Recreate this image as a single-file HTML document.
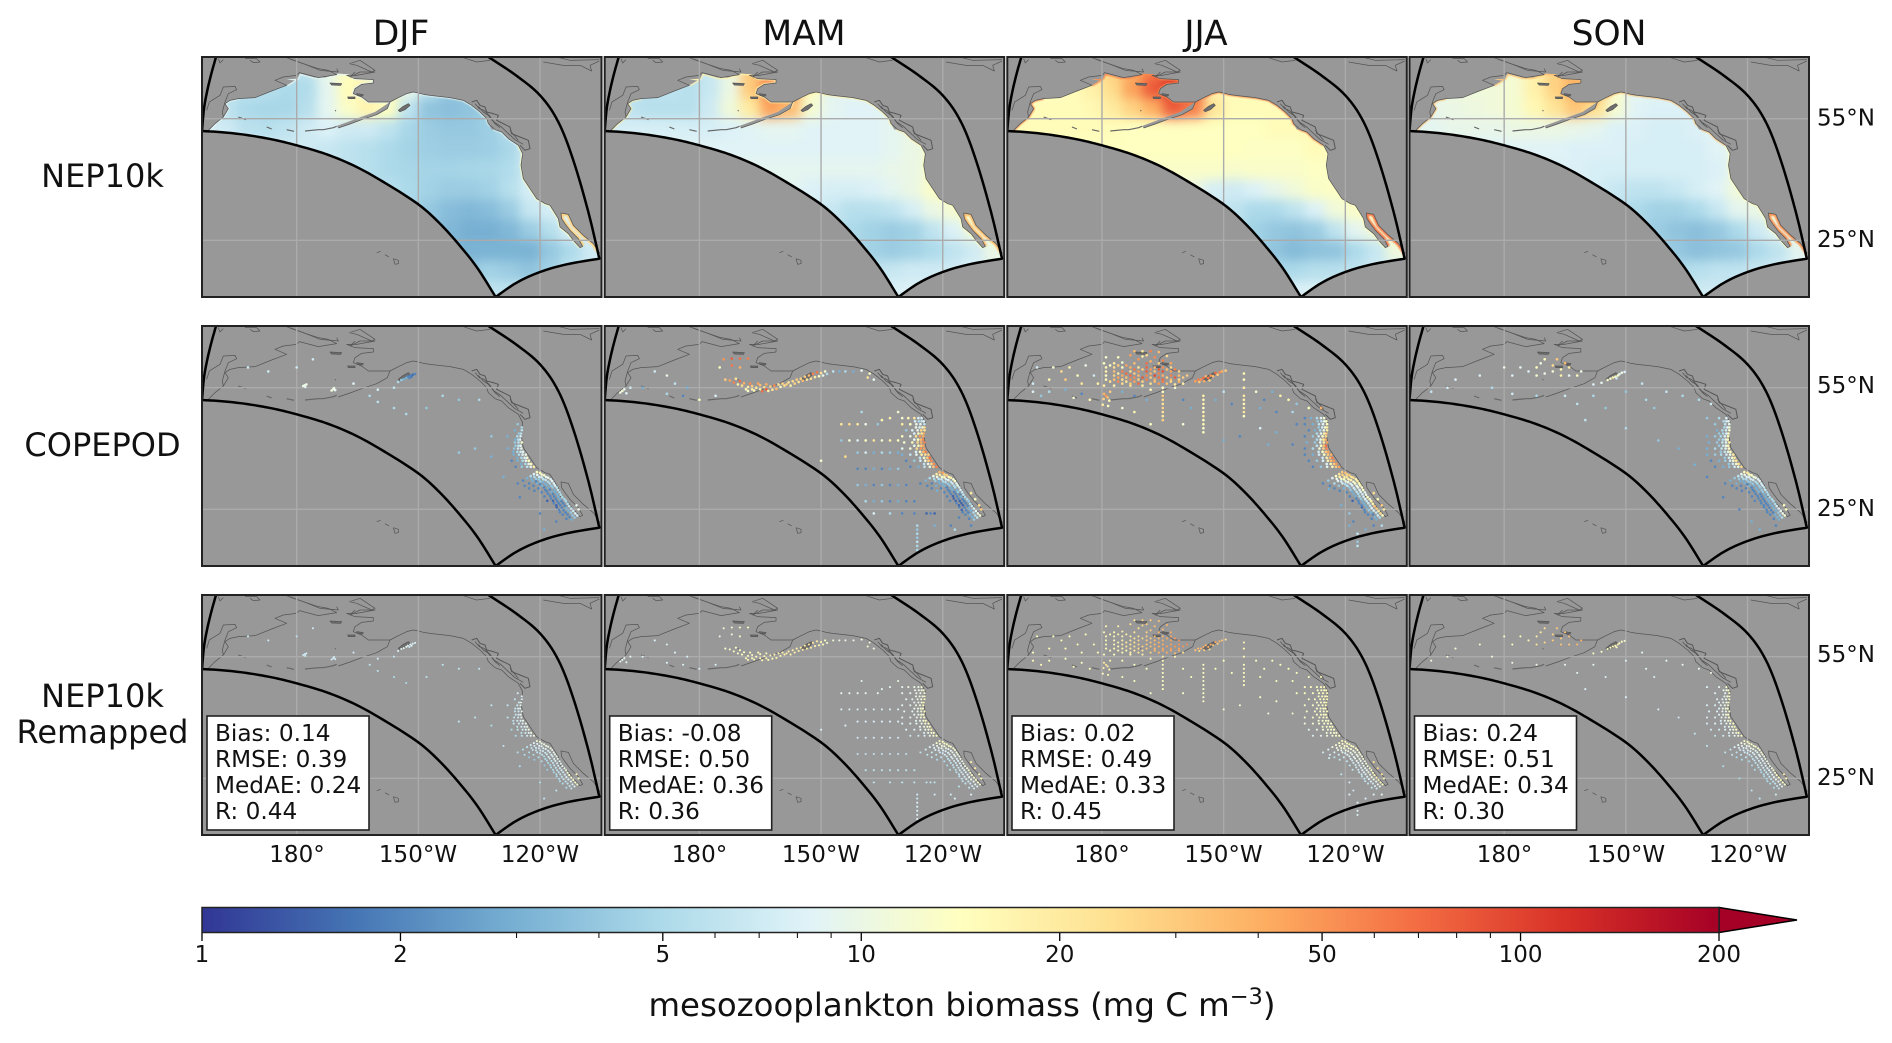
<!DOCTYPE html>
<html lang="en">
<head>
<meta charset="utf-8">
<title>Mesozooplankton biomass by season</title>
<style>
html,body{margin:0;padding:0;background:#fff;width:1892px;height:1043px;overflow:hidden}
svg{display:block}
text{font-family:"DejaVu Sans","Liberation Sans",sans-serif;fill:#111}
.title{font-size:34.5px;text-anchor:middle}
.row{font-size:32px;text-anchor:middle}
.tick{font-size:23px}
.mid{text-anchor:middle}
.stat{font-size:23.2px}
.statbox{fill:#fff;stroke:#222;stroke-width:1.6}
</style>
</head>
<body>
<svg id="figure" xmlns="http://www.w3.org/2000/svg" width="1892" height="1043" viewBox="0 0 1892 1043">
<defs>
<filter id="soft" x="-15%" y="-15%" width="130%" height="130%" color-interpolation-filters="sRGB"><feGaussianBlur stdDeviation="5.5"/></filter>
<filter id="softrim" x="-5%" y="-5%" width="110%" height="110%" color-interpolation-filters="sRGB"><feGaussianBlur stdDeviation="0.7"/></filter>
<clipPath id="ocean"><path id="ocean-shape" transform="translate(-12,-16.67) scale(.33333)" d=""/></clipPath>
<clipPath id="panel-clip"><rect x="0" y="0" width="399.5" height="240"/></clipPath>
<g id="rim-north" transform="translate(-12,-16.67) scale(.33333)" fill="none" stroke-linejoin="round"><path d="M55,270L75,250L90,238L100,230L115,205L105,190L120,180L145,175M290,135L315,120L290,118L323,115L330,100L375,112L405,112L445,100L475,102L495,115L550,118L550,128L515,132L495,145L490,160L515,170L535,185L600,185L595,200L560,220L515,235M625,172L650,160L670,155L685,158L700,162L720,165L780,172L820,180L845,195L870,215L890,235L895,250L915,268L935,275L955,295L985,315"/></g>
<g id="rim-south" transform="translate(-12,-16.67) scale(.33333)" fill="none" stroke-linejoin="round"><path d="M985,315L998,340L993,375L1000,415L1020,445L1040,475L1065,490L1080,495L1105,535L1110,560L1135,580L1150,600L1170,622"/></g>
<g id="rim-baja" transform="translate(-12,-16.67) scale(.33333)" fill="none" stroke-linejoin="round"><path d="M1178,618L1165,595L1140,570L1125,550L1115,535L1113,518L1135,522L1150,555L1180,585L1210,610L1230,640"/></g>
<g id="land" transform="translate(-12,-16.67) scale(.33333)" fill="#989898"><path d="M600,185L592,205L560,223L515,238L480,251L445,263L440,257L510,231L555,215Z"/><path d="M625,210L640,198L655,190L660,195L645,208L630,214Z"/><path d="M420,128L455,130L452,135L425,134Z"/><path d="M473,170L495,170L495,175L475,175Z"/><path d="M500,160L520,163L518,167L502,165Z"/><path d="M895,250L905,252L912,268L905,268Z"/></g>
<g id="coast" transform="translate(-12,-16.67) scale(.33333)" fill="none" stroke="#555" stroke-width="2.2" stroke-linejoin="round"><path d="M50,210L58,185L90,165L100,140L135,138L140,148L115,160L105,185L97,215L100,230L75,250L55,270"/><path d="M100,230L115,205L105,190L120,180L145,175L195,172L245,152L290,135L255,120L280,110L320,105L328,97L385,112L440,103L415,90L385,85L310,60L290,52"/><path d="M495,95L480,110L510,95L555,95L500,105L470,105L495,115L550,118L550,128L515,132L495,145L490,160L515,170L535,185L600,185L592,205L560,223L515,238L480,251L445,263"/><path d="M600,185L625,172L650,160L670,155L685,158L700,162L720,165L780,172L820,180L845,195L870,215L890,235L895,250L915,268L935,275L955,295L985,315L998,340L993,375L1000,415L1020,445L1040,475L1065,490L1080,495L1105,535L1110,560L1135,580L1150,600L1170,622L1178,618L1165,595L1140,570L1125,550L1115,535L1113,518L1135,522L1150,555L1180,585L1210,610L1230,640"/><path d="M85,55L90,68L100,58M165,55L200,55L210,65L190,67L180,60M300,55L345,72L390,90L445,95L440,85M478,70L510,60L555,90L545,95L500,75L478,70M820,52L860,65L900,60M1060,65L1120,75L1170,75L1205,92L1200,75L1228,62M1100,50L1140,60L1228,58"/><path d="M845,185L860,180L870,195L885,200L890,215L910,220L925,225L920,240L940,250L960,260L965,280L990,290L1015,300L1020,325L1005,330L990,315" stroke-width="3"/><path d="M855,190L868,205L882,210L900,228L912,245L932,258L950,275L975,298L1000,312M865,198L880,215L895,225L915,250L930,262M960,270L985,300" stroke-width="2.4"/><path d="M625,210L640,198L655,190L660,195L645,208L630,214Z" fill="#6f6f6f"/><path d="M420,128L455,130L452,135L425,134Z" fill="#6f6f6f"/><path d="M473,170L495,170L495,175L475,175Z" fill="#6f6f6f"/><path d="M500,160L520,163L518,167L502,165Z" fill="#6f6f6f"/><path d="M145,230L168,238M230,260L245,266M290,268L312,273M345,272L385,268L400,268L430,262L440,258M435,210L438,212" stroke-width="3.5" stroke="#666"/><path d="M560,637L572,633M585,643L597,650M610,655L625,660L625,670L615,672L610,655"/></g>
<g id="boundary" transform="translate(-12,-16.67) scale(.33333)"><path id="boundary-shape" fill="none" stroke="#000" stroke-width="7.5" stroke-linejoin="round" d=""/></g>
<linearGradient id="cbar-gradient"></linearGradient>
</defs>
<rect x="0" y="0" width="1892" height="1043" fill="#fff"/>
<g id="panels"></g>

<text class="title" x="401" y="45">DJF</text>
<text class="title" x="804" y="45">MAM</text>
<text class="title" x="1206" y="45">JJA</text>
<text class="title" x="1609" y="45">SON</text>

<text class="row" x="102.5" y="187">NEP10k</text>
<text class="row" x="102.5" y="456">COPEPOD</text>
<text class="row" x="102.5" y="707">NEP10k</text>
<text class="row" x="102.5" y="743">Remapped</text>

<g>
<text class="tick" x="1817" y="125.5">55°N</text>
<text class="tick" x="1817" y="247">25°N</text>
<text class="tick" x="1817" y="393">55°N</text>
<text class="tick" x="1817" y="516">25°N</text>
<text class="tick" x="1817" y="662">55°N</text>
<text class="tick" x="1817" y="785">25°N</text>
</g>
<g>
<text class="tick mid" x="297" y="862">180°</text>
<text class="tick mid" x="418" y="862">150°W</text>
<text class="tick mid" x="540" y="862">120°W</text>
<text class="tick mid" x="699.5" y="862">180°</text>
<text class="tick mid" x="821" y="862">150°W</text>
<text class="tick mid" x="943" y="862">120°W</text>
<text class="tick mid" x="1102" y="862">180°</text>
<text class="tick mid" x="1223.5" y="862">150°W</text>
<text class="tick mid" x="1345.5" y="862">120°W</text>
<text class="tick mid" x="1504.5" y="862">180°</text>
<text class="tick mid" x="1626" y="862">150°W</text>
<text class="tick mid" x="1748" y="862">120°W</text>
</g>

<g><rect class="statbox" x="207" y="716" width="162" height="114"/>
<text class="stat" x="215" y="741">Bias: 0.14</text><text class="stat" x="215" y="767">RMSE: 0.39</text><text class="stat" x="215" y="793">MedAE: 0.24</text><text class="stat" x="215" y="819">R: 0.44</text></g>
<g><rect class="statbox" x="609.7" y="716" width="162" height="114"/>
<text class="stat" x="617.7" y="741">Bias: -0.08</text><text class="stat" x="617.7" y="767">RMSE: 0.50</text><text class="stat" x="617.7" y="793">MedAE: 0.36</text><text class="stat" x="617.7" y="819">R: 0.36</text></g>
<g><rect class="statbox" x="1012" y="716" width="162" height="114"/>
<text class="stat" x="1020" y="741">Bias: 0.02</text><text class="stat" x="1020" y="767">RMSE: 0.49</text><text class="stat" x="1020" y="793">MedAE: 0.33</text><text class="stat" x="1020" y="819">R: 0.45</text></g>
<g><rect class="statbox" x="1414.5" y="716" width="162" height="114"/>
<text class="stat" x="1422.5" y="741">Bias: 0.24</text><text class="stat" x="1422.5" y="767">RMSE: 0.51</text><text class="stat" x="1422.5" y="793">MedAE: 0.34</text><text class="stat" x="1422.5" y="819">R: 0.30</text></g>

<g id="colorbar">
<polygon points="1719,907.5 1797,920 1719,932.5" fill="#a50026" stroke="#000" stroke-width="1.5" stroke-linejoin="miter"/>
<rect x="202" y="907.5" width="1517" height="25" fill="url(#cbar-gradient)" stroke="#222" stroke-width="1.5"/>
</g>
<text x="962" y="1016" text-anchor="middle" font-size="32.4">mesozooplankton biomass (mg C m<tspan dy="-12" font-size="22.5">−3</tspan><tspan dy="12">)</tspan></text>
</svg>

<script>
/* ---------- colour scale ---------- */
const cmapStops = ['#313695','#4575b4','#74add1','#abd9e9','#e0f3f8','#ffffbf','#fee090','#fdae61','#f46d43','#d73027','#a50026'];
const vMin = 1;
const vMax = 200;
const majorTicks = [1,2,5,10,20,50,100,200];
const minorTicks = [3,4,6,7,8,9,30,40,60,70,80,90];
const seasons = ['DJF','MAM','JJA','SON'];
const panelLefts = [202,604.7,1007.3,1409.5];
const panelTops = [57,326,595];

/* ---------- model field, mg C m-3, rows lat 67.5..12.5 (5 deg), cols lon -202.5..-107.5 (5 deg) ---------- */
const fieldLats = [67.5,62.5,57.5,52.5,47.5,42.5,37.5,32.5,27.5,22.5,17.5,12.5];
const fieldLons = [-202.5,-197.5,-192.5,-187.5,-182.5,-177.5,-172.5,-167.5,-162.5,-157.5,-152.5,-147.5,-142.5,-137.5,-132.5,-127.5,-122.5,-117.5,-112.5,-107.5];
const fieldDJF = [
[6,6,6,6,6,6,10,14,16,16,10,5,4,4,4,4,4,4,4,4],
[6,6,6,5.5,5,5.2,9,15,17,17,10,6,4,4,4,4,4,4,4,4],
[6,6,5,4.8,4.8,5.5,9,13,17,14,6,3.8,3.6,3.8,4.5,5,5,5,5,5],
[8,7,5.8,5.5,6,7,8,7,7,6,4.8,4.2,4,4,4.3,5.5,6,6,6,6],
[8,8,7,7,7,7,6.5,6,5.5,5,4.6,4.3,4.2,4.2,4.3,4.8,8,8,8,8],
[8,8,7,7,7,7,6.5,6,5.5,5,4.8,4.6,4.6,4.7,4.8,5.2,7.5,8,8,8],
[7,7,7,7,7,7,6.5,6,5.5,5.5,5,4.5,4.2,4.2,4.5,5.5,7.5,8,8,8],
[6,6,6,6,6,6,6,6,6,6,5,4,3.5,3.3,3.5,4.2,6.5,7.5,9,9],
[5,5,5,5,5,5,5,5,5,5,5,4,3.3,3,3,3.3,4.2,5.5,8,9],
[4,4,4,4,4,4,4,4,4,4,4,3.6,3.4,3.1,3.1,3.1,3.1,4,5,7],
[4,4,4,4,4,4,4,4,4,4,4,4,4,4,4.5,4.2,3.8,4.5,6,7],
[5,5,5,5,5,5,5,5,5,5,5,5,5,6,6,6,6,6,6,6]];
const fieldMAM = [
[6,6,6,6,6,6.5,10,30,55,50,12,9,9,9,9,9,9,9,9,9],
[6,6,6,6,5.5,6.5,10,30,55,50,14,9,9,9,9,9,9,9,9,9],
[6,6,5.5,5.5,5.5,7,11,20,45,35,12,9,8.5,8.5,9,10,11,11,11,11],
[7.5,7.5,7.5,7.5,7.5,7.5,8,8.5,9,9,8.5,8.5,8.5,8.5,9,10,11,11,11,11],
[8.5,8.5,8.5,8.5,8.5,8.5,8.5,8.5,8.5,8.5,8.5,8.5,8.5,8.5,9,10,11,12,12,12],
[9,9,9,9,9,9,9,9,9,9,9,9,9,9,9.5,10,12,13,13,13],
[9,9,9,9,9,9,9,9,9,9,8,7.5,7.5,8,9,10,13,13,13,13],
[8,8,8,8,8,8,8,8,8,8,7.5,6.5,5.5,5.5,6,7.5,10,12,14,14],
[7,7,7,7,7,7,7,7,7,7,7,6.5,5,4.5,4.2,4.5,6,8,11,13],
[6,6,6,6,6,6,6,6,6,6,6,6,5.5,4.5,4.2,4.5,5,6,7,10],
[6,6,6,6,6,6,6,6,6,6,6,6,6,6,6.5,7,7,7,8,9],
[8,8,8,8,8,8,8,8,8,8,8,8,8,8,8,8,8,8,8,8]];
const fieldJJA = [
[15,15,15,15,20,30,40,60,90,90,15,15,15,15,15,15,15,15,15,15],
[14,14,14,15,18,25,45,80,110,90,18,15,15,15,15,15,15,15,15,15],
[14,15,15,15,16,20,28,40,80,60,22,15,15,15,16,17,17,17,17,17],
[15,15,15,15,15,15,14,14,14,14,14,14,14,15,15,16,16,16,16,16],
[14,14,14,14,14,14,14,14,14,14,14,14,13.5,13.5,13.5,15,15,15,15,15],
[13.5,13.5,13.5,13.5,13.5,13.5,13,13,13,13,13,12.5,13,13,13,13.5,13,14,14,14],
[12,12,12,12,12,12,12,12,11,10,7.5,7,8,9.5,11,13,13.5,14,14,14],
[9,9,9,9,9,9,9,9,9,8,7,6,5,5,6,8,11,13,15,15],
[7,7,7,7,7,7,7,7,7,7,7,6,4.5,4,3.8,4.2,6,9,11,15],
[6,6,6,6,6,6,6,6,6,6,6,6,5,3.8,3.4,3.7,3.8,5,6.5,11],
[6,6,6,6,6,6,6,6,6,6,6,6,6,5,5,5.5,5.5,6,7,8],
[8,8,8,8,8,8,8,8,8,8,8,8,8,8,8,8,8,8,8,8]];
const fieldSON = [
[10,10,10.5,11,11,12,18,28,40,40,12,9,9,9,9,9,9,9,9,9],
[10,10,10.5,11,11,12,18,28,40,40,13,9,9,9,9,9,9,9,9,9],
[9.5,9.5,10,10.5,11,12,16,22,32,24,12,8.5,8,8,8,9,10,10,10,10],
[9,9,9.5,9.5,9.5,10,10,10,9.5,9,8,8,7.5,7.5,8,9,10,10,10,10],
[8.5,8.5,8.5,8.5,8.5,8.5,8.5,8.5,8,8,8,7.5,7.5,7.5,7.5,8.5,10,10,10,10],
[8,8,8,8,8,8,8,8,8,7.5,7.5,7.5,7.5,7.5,7.5,8,10,11,11,11],
[8,8,8,8,8,8,8,8,8,7.5,6.5,6,6,6.5,7.5,8.5,11,12,12,12],
[7,7,7,7,7,7,7,7,7,7,6,5,4.5,4.5,5,6.5,9,10,13,13],
[6,6,6,6,6,6,6,6,6,6,6,5.5,4.2,3.8,3.6,4,5,7,9,12],
[6,6,6,6,6,6,6,6,6,6,6,6,5,4,3.6,3.8,4,5,6,9],
[6,6,6,6,6,6,6,6,6,6,6,6,6,5,5.5,6,6,6.5,7,8],
[7,7,7,7,7,7,7,7,7,7,7,7,7,7,7,7,7,7,7,7]];
/* coastal rim biomass: north coasts, California, Gulf of California */
const rimDJF = [9,14,28];
const rimMAM = [18,14,34];
const rimJJA = [55,14,62];
const rimSON = [34,14,50];

/* ---------- shared California Current stations (degrees) ---------- */
const calLon = [-125.2,-126,-127,-128.5,-130,-124.5,-125.5,-126.5,-128,-130,-124.5,-125.3,-126.2,-127.5,-129,-124.8,-125.6,-126.6,-128,-130,-124.5,-125.3,-126.2,-127.5,-129.5,-124.6,-125.4,-126.4,-128,-130,-123.5,-124.3,-125.2,-126.5,-128,-130,-122.8,-123.5,-124.3,-125.5,-127,-129,-121.5,-122.3,-123.2,-124.5,-126,-128,-120.8,-121.5,-122.3,-123.2,-124.2,-125.5,-119.6,-120.2,-121,-121.8,-122.7,-123.8,-118.5,-119.2,-119.9,-120.7,-121.6,-122.7,-117.4,-118,-118.7,-119.5,-120.4,-121.4,-116.6,-117.2,-117.9,-118.7,-119.6,-115.9,-116.5,-117.2,-118,-118.9,-115.2,-115.8,-116.5,-117.3,-118.2,-114.5,-115.1,-115.8,-116.6,-113.6,-114.3,-115,-115.9,-112.8,-113.5,-114.2,-115.1,-111.8,-112.4,-113.2,-110.8,-111.5,-112.3];
const calLat = [47.5,47.5,47.5,47.5,47.5,46,46,46,46,46,44.5,44.5,44.5,44.5,44.5,43,43,43,43,43,41.5,41.5,41.5,41.5,41.5,40,40,40,40,40,38.5,38.5,38.5,38.5,38.5,38.5,37,37,37,37,37,37,35.5,35.5,35.5,35.5,35.5,35.5,34.2,33.7,33.2,32.7,32.1,31.4,33.6,33,32.5,32,31.4,30.8,33,32.4,31.9,31.4,30.8,30.2,32.4,31.8,31.3,30.8,30.2,29.6,31.4,30.8,30.3,29.8,29.2,30.4,29.8,29.3,28.8,28.2,29.2,28.7,28.2,27.7,27.1,28,27.5,27,26.5,27,26.5,26,25.5,25.8,25.3,24.8,24.3,24.6,24.2,23.7,23.5,23,22.5];
/* 0 means not sampled that season */
const calObsDJF = [0,0,0,0,0,0,4,0,0,0,6,0,3,0,0,8,5,0,3,0,12,6,4,0,0,9,7,4,3,0,10,8,5,3,0,0,14,9,5,3,2,0,18,9,6,4,2,0,14,8,5,3,2,2,12,7,4,3,2,2,9,6,4,3,2,2,8,5,3,3,2,2,8,4,3,2,2,6,3,3,2,2,5,3,2,2,1.5,5,3,2,2,5,2,2,1.5,6,3,2,2,7,4,2,7,4,3];
const calModelDJF = [0,0,0,0,0,0,7,0,0,0,8,0,6,0,0,9,7,0,6,0,9,7,6,0,0,9,7,6,6,0,10,8,7,6,0,0,11,8,7,6,5,0,11,8,7,6,5,0,11,8,7,6,5,5,10,8,7,6,5,5,10,8,7,6,5,4,10,8,7,6,5,4,9,8,7,5,5,9,8,6,5,4,9,7,6,5,4,9,7,6,5,11,7,6,5,13,8,6,5,13,8,6,12,8,6];
const calObsMAM = [7,8,20,16,12,6,9,10,14,20,20,25,10,8,4,40,50,22,10,14,60,40,25,16,12,45,50,25,12,9,30,25,18,9,6,3,55,30,12,7,4,2,60,30,10,6,3,2,35,20,10,5,3,2,25,12,6,4,2,2,15,8,5,3,3,2,12,6,4,3,2,3,8,5,3,2,2,7,3,2,2,2,6,2,2,1.5,2,5,2,1.5,2,4,2,1.5,2,6,3,2,2,9,5,3,12,6,4];
const calModelMAM = [12,10,10,10,9,12,10,10,9,9,14,11,10,9,9,14,11,10,9,9,14,11,10,9,9,14,11,10,9,9,15,12,10,9,9,8,15,12,10,9,8,8,15,12,10,8,7,7,15,12,9,8,7,6,14,11,9,8,7,6,13,10,8,7,6,6,12,9,8,7,6,5,11,9,8,6,5,10,8,7,6,5,10,8,7,6,5,11,8,7,6,12,8,7,6,13,9,7,6,13,9,7,12,8,7];
const calObsJJA = [12,8,5,3,2,14,9,6,3,2,18,10,5,3,2,25,14,7,4,2,45,20,9,4,3,55,28,11,5,2,40,30,14,7,3,2,50,35,18,8,4,2,45,30,16,9,4,2,30,22,14,8,4,2,25,20,12,8,5,2,20,15,10,7,4,2,16,12,8,6,3,2,14,9,7,4,2,12,8,6,3,2,9,7,5,2,1.5,14,8,3,2,18,7,3,1.5,30,8,4,2,20,6,2,14,5,3];
const calModelJJA = [16,15,14,14,14,16,15,14,14,14,15,14,14,13,13,15,14,13,13,13,14,13,13,13,13,14,13,13,13,13,14,13,13,12,12,11,14,13,12,12,10,9,14,13,12,11,9,8,15,13,12,10,8,7,15,13,12,10,8,7,14,12,11,9,7,6,13,11,10,9,7,6,11,10,9,8,6,11,10,9,7,6,10,9,8,7,6,11,9,8,7,13,10,8,6,16,11,8,6,16,10,7,14,9,7];
const calObsSON = [8,0,5,0,4,10,6,0,4,0,12,7,5,3,0,14,8,5,4,3,18,9,6,4,3,14,9,6,5,3,20,10,7,5,4,3,22,12,7,4,3,2,25,10,7,4,3,2,16,9,6,4,3,2,14,8,5,3,3,2,10,7,4,3,2,2,8,5,4,3,2,2,7,4,3,2,2,6,4,3,2,2,5,3,2,2,2,5,3,2,2,5,3,2,2,7,3,2,2,9,4,3,12,5,3];
const calModelSON = [13,0,9,0,8,13,9,0,8,0,13,10,8,8,0,13,10,9,8,8,13,10,9,8,8,13,10,9,8,8,14,11,9,8,8,7,14,11,9,8,7,7,14,11,9,8,7,6,14,11,9,8,6,6,13,10,8,7,6,6,12,10,8,7,6,5,12,9,8,6,6,5,11,9,7,6,5,10,8,7,6,5,10,8,7,6,5,10,8,6,5,12,8,6,5,14,9,6,5,14,9,6,13,8,6];

/* ---------- nearshore interleaved stations ---------- */
const nearLon = [-124.7,-125.2,-125.9,-126.8,-124.5,-125,-125.7,-126.6,-124.7,-125.2,-126,-127,-124.9,-125.4,-126.1,-127,-124.8,-125.3,-126,-127,-124.2,-124.8,-125.6,-126.6,-123.2,-123.8,-124.6,-125.6,-122.2,-122.8,-123.6,-124.6,-120,-120.7,-121.4,-122.1,-119,-119.6,-120.3,-121,-118,-118.6,-119.3,-120,-117,-117.6,-118.3,-119,-116.3,-116.9,-117.6,-118.3,-115.6,-116.2,-116.8,-117.5,-114.9,-115.5,-116.1,-116.8,-114,-114.7,-115.4,-116,-113.2,-113.9,-114.6,-115.3,-112.3,-113,-113.7,-114.4,-111.3,-112,-112.7,-113.5,-110.5,-111,-112,-113];
const nearLat = [46.7,46.7,46.7,46.7,45.2,45.2,45.2,45.2,43.7,43.7,43.7,43.7,42.2,42.2,42.2,42.2,40.7,40.7,40.7,40.7,39.2,39.2,39.2,39.2,37.7,37.7,37.7,37.7,36.2,36.2,36.2,36.2,34,33.5,33,32.5,33.4,32.9,32.4,31.9,32.8,32.2,31.7,31.2,32,31.4,30.9,30.4,30.9,30.4,29.9,29.4,29.8,29.3,28.8,28.3,28.6,28.1,27.6,27.1,27.5,27,26.5,26,26.4,25.9,25.4,24.9,25.2,24.7,24.2,23.7,24,23.5,23.1,22.7,25,26,27.5,29];
const nearObsDJF = [0,0,0,0,5,0,0,0,6,4,0,0,8,5,3,0,9,6,4,0,9,7,5,3,12,8,5,3,16,9,5,3,16,9,5,3,12,7,4,2,10,6,3,2,9,5,3,2,8,4,2,2,6,3,2,2,5,3,2,1.5,5,2,2,1.5,5,2,2,2,6,3,2,2,8,4,2,2,10,9,0,0];
const nearModelDJF = [0,0,0,0,8,0,0,0,9,7,0,0,9,7,6,0,9,7,6,0,10,8,7,6,10,8,7,6,11,8,7,6,11,8,7,6,11,8,7,6,10,8,7,6,10,8,7,5,10,8,7,5,9,8,6,5,9,7,6,5,9,7,6,5,11,7,6,5,13,8,6,5,13,8,6,5,14,16,0,0];
const nearObsMAM = [8,6,5,8,25,12,8,10,40,20,14,8,55,35,14,9,45,30,16,9,60,35,14,8,70,30,12,6,55,25,10,6,45,20,10,5,30,14,7,3,18,9,5,3,14,7,4,2,10,5,3,2,8,4,2,1.5,6,3,2,1.5,5,2,1.5,1.5,5,2,2,1.5,8,3,2,2,10,5,3,2,30,25,14,20];
const nearModelMAM = [12,11,10,10,13,11,10,10,14,12,10,9,14,12,10,9,14,12,10,9,15,12,10,9,15,12,10,9,15,12,10,8,15,12,10,8,14,11,9,8,13,10,8,7,12,9,8,7,11,9,8,7,10,8,7,6,10,8,7,6,11,8,7,6,12,8,7,6,13,9,7,6,13,9,7,6,15,16,18,18];
const nearObsJJA = [14,9,6,4,20,12,7,4,30,18,9,5,40,22,10,5,70,35,14,6,45,30,14,7,60,35,18,7,50,30,16,8,35,28,18,10,30,22,14,7,24,18,10,5,20,13,8,4,16,10,6,3,14,8,5,3,10,7,4,2,12,6,3,2,16,6,3,2,30,7,3,2,24,7,3,2,20,30,16,25];
const nearModelJJA = [16,15,14,14,16,15,14,13,15,14,13,13,15,14,13,13,15,14,13,13,14,13,13,12,14,13,13,12,14,13,12,11,15,14,12,10,15,13,12,9,14,12,10,8,13,11,9,8,12,10,9,7,11,10,8,7,11,9,8,7,12,9,8,7,14,10,8,6,17,10,8,6,15,10,7,6,18,22,25,25];
const nearObsSON = [9,7,5,0,12,8,5,0,14,8,5,4,16,9,5,4,18,10,6,4,16,10,6,4,22,12,7,4,24,12,7,4,20,10,6,4,14,8,5,3,11,7,4,2,9,5,3,2,8,4,3,2,7,4,2,2,5,3,2,2,5,3,2,2,5,3,2,2,7,3,2,2,10,4,3,2,15,14,0,0];
const nearModelSON = [13,11,9,0,13,11,9,0,13,11,9,8,13,11,9,8,13,11,9,8,14,11,9,8,14,11,9,8,14,11,9,8,14,11,9,8,14,10,8,7,13,10,8,7,12,9,8,6,11,9,7,6,10,8,7,6,10,8,7,6,10,8,6,5,12,8,6,5,14,9,6,5,14,9,6,5,18,20,0,0];

/* ---------- other observed stations: lon, lat, observed, remapped model ---------- */
const northDJF = [[-178,55.6,9,7],[-178.4,55.4,10,7],[-177.6,55.8,11,7],[-177.9,55.2,9,7],[-171,54.6,10,7],[-170.5,54.4,9,7],[-171.4,54.3,11,7],[-170.8,54.9,10,7],[-152,58,2,8],[-152.6,57.7,2,8],[-151.4,58.2,1.6,8],[-153,57.4,3,9],[-152.2,57.4,2,7],[-151.7,57.7,1.8,8],[-153.6,57.1,3,9],[-150.8,58.4,2,8],[-154.2,56.9,4,9],[-155,56.4,5,8],[-166,56,8,7],[-160,54.5,7,7],[-156,55,6,6],[-162,53,5,6],[-160,51.5,6,6],[-156,50,5,5],[-153,48.5,5,5],[-148,50,4,6],[-144,53,5,6],[-140,52,4,6],[-135,52,5,6],[-132,43,4,6],[-136,40,4,6],[-140,39,4,6],[-180,60,7,6],[-176,62,7,7],[-192,60,7,7],[-187,59,7,7],[-132,38,3,5],[-129,33,3,6],[-125,28,2,5],[-120,24,2,5],[-116,22,2,6],[-119,20,3,6]];
const northMAM = [[-173.6,57,30,13],[-172.5,56.8,45,13],[-171.5,56.3,60,14],[-171,57.2,22,14],[-170.5,55.8,18,13],[-170,56.6,70,14],[-169.5,55.5,25,14],[-169,56.1,40,14],[-168.5,54.6,16,15],[-168,55.2,20,15],[-168,54.2,14,16],[-167.5,56,55,14],[-167,54.6,18,15],[-167,55.4,30,15],[-166.5,54.3,16,15],[-166,55,22,15],[-165.5,56,45,15],[-165,54.6,20,16],[-165,55.6,35,15],[-164.5,54.1,70,16],[-164,55.1,25,16],[-163.5,54.6,80,17],[-163.5,55.8,40,16],[-163,54.2,18,15],[-162.5,55.3,28,17],[-162,54.5,22,16],[-161.5,55.5,55,17],[-161,54.7,35,17],[-160.5,55.8,22,18],[-160,55.2,15,17],[-159.5,56,28,18],[-159,55.5,24,18],[-158.5,55.8,30,18],[-158,56.3,22,18],[-157.5,55.5,18,18],[-157,56.6,25,19],[-156.5,56,28,19],[-156,57,30,20],[-155.5,56.4,22,18],[-155,57.2,28,20],[-154.5,56.7,35,20],[-154,57.7,30,22],[-153.5,57,22,20],[-153,58,35,22],[-152.5,57.2,25,20],[-152,58.4,60,22],[-151.5,57.6,20,18],[-151,58.8,65,20],[-150.5,57.8,14,16],[-150,58.6,22,16],[-149.5,58,9,14],[-149,59,12,14],[-148.5,58.4,5,12],[-147,59,6,11],[-145.5,59,3,10],[-144,59,5,10],[-142,59,3,10],[-140,59.2,9,11],[-138.5,57.5,22,12],[-138,58.5,14,11],[-137,57,9,10],[-172,60.5,65,11],[-174,62,50,11],[-172,62.2,80,12],[-170,62.2,70,13],[-168,62.2,60,14],[-175,60,14,10],[-170,60,40,13],[-199.5,53.8,10,9],[-199,54.2,12,9],[-198.5,54.6,9,9],[-198,53.6,8,9],[-197,55,7,9],[-191,59,7,8],[-188,58,10,8],[-186,56,6,8],[-183,55,3,8],[-180,52,14,8],[-176,53,8,8],[-194,55,3,8],[-188,53.5,5,8],[-184,53,2,8],[-140,49,5,9],[-136,46,4,9],[-135,47,16,9],[-133,47.5,18,9],[-131,49,12,10],[-145,46,22,9],[-143,46,25,9],[-141,46,20,9],[-139,46,10,9],[-145,42,4,8],[-143,42,12,8],[-141,42,8,8],[-139,42,14,8],[-137,42,22,8],[-135,42,12,8],[-133,42,18,8],[-131,42,14,8],[-141,39,4,8],[-139,39,7,8],[-137,39,3,8],[-135,39,5,8],[-133,39,4,8],[-131,39,3,8],[-141,35,2,7],[-139,35,2,7],[-137,35,3,7],[-135,35,2,7],[-133,35,3,7],[-131,35,4,7],[-141,31,4,6],[-139,31,3,6],[-137,31,2,6],[-135,31,4,6],[-133,31,2,6],[-131,31,3,6],[-129,31,2,6],[-139,27,5,6],[-137,27,3,6],[-135,27,4,6],[-133,27,2,6],[-131,27,3,6],[-129,27,2,6],[-127,27,2,6],[-137,24,8,6],[-133,24,5,6],[-130,24,2,6],[-127,24,2,6],[-124,24,1.5,6],[-122,24,1.5,6],[-144,38,25,8],[-150,37,12,8],[-122,21,3,7],[-123,24,2,6],[-118,21,2,7],[-126.3,21,5,7],[-126.3,20,4,7],[-126.3,19,5,8],[-126.3,18,4,8],[-126.3,17,6,8],[-126.3,16,5,8],[-126.3,15,5,8],[-117,20,5,8],[-113,21,2,8],[-116,23,2,6]];
const northJJA = [[-172,64,35,22],[-170,64,22,28],[-168,64,60,30],[-166,63.8,35,32],[-179,62.5,12,16],[-176,62.5,14,18],[-173,63,45,24],[-170,62.7,18,28],[-167,62.5,55,34],[-164,62.8,25,38],[-179.5,61,14,16],[-177,61,20,16],[-175,61.2,12,18],[-172,61,35,22],[-169,61,70,28],[-166,61,30,38],[-163,61,45,42],[-179,60,16,16],[-177,60,25,16],[-175,60,14,17],[-173,60,40,20],[-171,60,22,24],[-169,60,75,28],[-167,60,35,34],[-165,60,55,38],[-163,60,25,44],[-179,59,18,16],[-177,59,35,16],[-175,59,60,18],[-173,59,25,20],[-171,59,50,26],[-169,59,80,30],[-167,59,32,36],[-165,59,90,40],[-163,59,45,46],[-161,59,28,50],[-179,58,14,15],[-177,58,28,16],[-175,58,40,18],[-173,58,70,22],[-171,58,35,28],[-169,58,55,32],[-167,58,95,38],[-165,58,40,42],[-163,58,60,46],[-161,58,35,52],[-159,58,30,55],[-179,57,16,15],[-177,57,35,16],[-175,57,25,18],[-173,57,55,22],[-171,57,30,26],[-169,57,60,32],[-167,57,40,36],[-165,57,75,44],[-163,57,35,50],[-161,57,25,45],[-174,56.5,22,16],[-172,56.5,45,20],[-170,56.5,28,24],[-168,56,25,30],[-166,56,48,38],[-164,56,35,42],[-162,55.8,20,34],[-170,55.5,20,18],[-173,55.5,25,16],[-177,55.5,18,15],[-179.5,55.5,20,15],[-165,55,14,20],[-168,54.5,16,17],[-160,56,18,24],[-176,60.5,30,17],[-174,60.5,45,18],[-172,59.5,65,22],[-170,59.5,30,26],[-168,59.5,50,30],[-166,59.5,85,36],[-164,59.5,35,42],[-162,59.5,60,48],[-176,58.5,20,16],[-174,58.5,70,20],[-172,58.5,30,24],[-170,57.5,85,30],[-168,58.5,40,34],[-166,58.5,60,40],[-164,57.5,28,46],[-162,57.5,80,50],[-160,57.5,30,50],[-176,57.5,45,16],[-174,57.5,35,20],[-172,57.5,55,24],[-168,57.5,30,34],[-166,57.5,70,42],[-178,56.5,25,15],[-176,56.5,55,16],[-167,56.5,35,36],[-165,56.5,60,42],[-163,56.5,28,44],[-161,56.5,40,40],[-171,56,70,22],[-173,56,30,18],[-175,56,25,16],[-178,60.5,14,16],[-171,62,50,24],[-168,61.5,40,30],[-165,61.7,60,36],[-169,63,25,30],[-157,56.6,45,32],[-156.3,57,60,36],[-155.6,57,55,36],[-155,57.4,70,42],[-154.4,57.8,40,38],[-153.8,57.4,65,40],[-153.2,58,48,40],[-152.6,57.8,35,32],[-152,58.6,70,45],[-151.5,58.2,30,30],[-151,58.8,55,38],[-150.4,59,40,34],[-149.5,59.2,30,24],[-156,56.4,30,26],[-154.8,56.6,42,30],[-153.5,56.8,28,25],[-179.5,53.5,40,20],[-179,53,50,22],[-178.6,52.6,35,18],[-179.6,52.2,28,18],[-178,54,30,18],[-178.2,51.8,16,16],[-179.8,50.8,20,15],[-178.5,50.5,14,15],[-165,54,14,15],[-165,53,30,15],[-165,52,25,15],[-165,51,22,14],[-165,50,28,14],[-165,49,22,14],[-165,48,20,14],[-165,47,28,14],[-155,53,18,14],[-155,52,16,14],[-155,51,18,14],[-155,50,14,14],[-155,49,16,13],[-155,48,20,13],[-155,47,14,13],[-155,46,16,13],[-155,45,13,13],[-155,44,14,13],[-145,53,20,14],[-145,52,18,14],[-145,51,16,14],[-145,50,20,14],[-145,49,22,14],[-145,48,14,14],[-145,55,18,15],[-145,57,14,15],[-145,58.5,15,16],[-196,60,7,14],[-192,60,12,14],[-188,60,18,15],[-184,60.5,10,15],[-190,59,25,15],[-186,58,14,15],[-182,58,7,15],[-197,56,7,14],[-193,57,16,15],[-189,57,30,15],[-185,56,22,15],[-181,56,18,15],[-197,54,8,15],[-193,54,5,15],[-189,54.5,3,14],[-185,53.5,2,14],[-195,53,4,15],[-187,52.5,12,15],[-183,52,16,15],[-175,54,3,15],[-172,53,2,14],[-169,52,3,14],[-160,52,2,14],[-158,50,3,14],[-162,55,12,15],[-150,54,6,14],[-152,52,3,14],[-148,51,2,14],[-142,54,12,14],[-140,52,2,14],[-138,54,3,14],[-136,53,18,14],[-134,52,16,14],[-132,51,4,14],[-141,50,3,14],[-137,49,2,14],[-133,49,5,14],[-129,50,14,14],[-126,50,40,16],[-160,46,12,13],[-168,46,14,13],[-172,49,16,14],[-175,50,12,14],[-150,42,3,12],[-146,43,2,12],[-141,45,8,13],[-137,44,3,13],[-132,46,2,14],[-139,41,3,11],[-133,41,2,12],[-124,30,3,7],[-121,26,3,6],[-119,24,4,7],[-118,22,2,7],[-119,21,3,8],[-117,19,6,8],[-117,17,4,8],[-117,16,6,8],[-115,20,3,8],[-113,21,2,8],[-111,21,5,9]];
const northSON = [[-172,60,14,18],[-171,61,10,20],[-170,62,14,24],[-168,60.5,25,28],[-167,62,30,30],[-166,59.5,16,30],[-165,61,35,34],[-164,60,20,32],[-168,59,12,30],[-170,58.5,10,26],[-172,58,12,22],[-166,58,18,32],[-164,58,9,32],[-162,58,14,36],[-161,59,10,40],[-176,60,9,14],[-174,59,8,16],[-178,58,8,14],[-180,60,10,13],[-152,58,14,16],[-152.6,57.7,12,15],[-151.6,58.3,9,14],[-153.2,57.5,16,16],[-151,58.7,10,14],[-153.8,57.2,12,15],[-152.3,57.3,7,14],[-154.5,56.9,12,14],[-150.3,58.9,8,12],[-156,56.2,9,13],[-158,55.8,8,13],[-186,58,8,12],[-192,57,8,12],[-194,55,7,11],[-198,54,6,11],[-183,55,5,11],[-178,53.5,7,10],[-172,53,5,10],[-165,53,7,9],[-162,51,6,9],[-158,53,5,9],[-155,50,4,8],[-150,54,4,8],[-146,56,6,9],[-145,52,5,9],[-143,50,4,8],[-140,54,6,9],[-136,53,5,9],[-132,52,5,9],[-129,51,7,10],[-160,47,6,8],[-150,45,5,8],[-142,42,4,8],[-137,40,3,7],[-133,36,3,6],[-130,33,2,6],[-126,28,2,5],[-122,25,2,5],[-119,22,3,6],[-117,20,3,6],[-113,21,2,7]];

/* ---------- axis functions ---------- */
const svgNS = 'http://www.w3.org/2000/svg';
const pxPerDeg = 4.056;
const xLon = lon => 94.67 + (lon + 180) * pxPerDeg;
const yLat = lat => 61.67 + (55 - lat) * pxPerDeg;
const tNorm = v => Math.log(v / vMin) / Math.log(vMax / vMin);

function hexRgb(h){return [parseInt(h.slice(1,3),16),parseInt(h.slice(3,5),16),parseInt(h.slice(5,7),16)];}
function cmap(v){
  const t = Math.max(0, Math.min(1, tNorm(v))) * (cmapStops.length - 1);
  const i = Math.min(cmapStops.length - 2, Math.floor(t));
  const a = hexRgb(cmapStops[i]), b = hexRgb(cmapStops[i + 1]), f = t - i;
  return 'rgb(' + a.map((c, k) => Math.round(c + (b[k] - c) * f)).join(',') + ')';
}
function mk(tag, attrs, parent){
  const el = document.createElementNS(svgNS, tag);
  for (const k in attrs) el.setAttribute(k, attrs[k]);
  if (parent) parent.appendChild(el);
  return el;
}

/* ---------- domain geometry: smooth curves through traced anchor points ---------- */
const arcLeft = [[78,50],[64,100],[52,150],[42,205],[36,272]];
const arcLower = [[36,272],[100,276],[170,284],[245,297],[320,315],[410,342],[500,380],[592,432],[685,492],[745,545],[800,605],[860,680],[917,770]];
const arcBottom = [[917,770],[980,727],[1050,695],[1130,672],[1228,655]];
const arcRight = [[895,50],[975,103],[1050,165],[1105,245],[1150,360],[1195,515],[1228,655]];
const oceanCoast = 'M55,272L75,250L90,238L100,230L115,205L105,190L120,180L145,175L195,172L245,152L290,135L315,120L290,118L323,115L330,100L375,112L405,112L445,100L475,102L495,115L550,118L550,128L515,132L495,145L490,160L515,170L535,185L600,185L625,172L650,160L670,155L685,158L700,162L720,165L780,172L820,180L845,195L870,215L890,235L895,250L915,268L935,275L955,295L985,315L998,340L993,375L1000,415L1020,445L1040,475L1065,490L1080,495L1105,535L1110,560L1135,580L1150,600L1170,622L1178,618L1165,595L1140,570L1125,550L1115,535L1113,518L1135,522L1150,555L1180,585L1210,610L1230,640L1228,655';
function splinePts(pts){
  const out = [];
  for (let i = 0; i < pts.length - 1; i++) {
    const p0 = pts[Math.max(0, i - 1)], p1 = pts[i], p2 = pts[i + 1], p3 = pts[Math.min(pts.length - 1, i + 2)];
    for (let s = 0; s < 8; s++) {
      const t = s / 8, t2 = t * t, t3 = t2 * t;
      const f = k => 0.5 * (2 * p1[k] + (p2[k] - p0[k]) * t + (2 * p0[k] - 5 * p1[k] + 4 * p2[k] - p3[k]) * t2 + (3 * p1[k] - p0[k] - 3 * p2[k] + p3[k]) * t3);
      out.push([f(0).toFixed(1), f(1).toFixed(1)]);
    }
  }
  out.push(pts[pts.length - 1]);
  return out;
}
const toD = (pts, move) => pts.map((p, i) => (i === 0 && move ? 'M' : 'L') + p[0] + ',' + p[1]).join('');
document.getElementById('boundary-shape').setAttribute('d',
  toD(splinePts(arcLeft), true) + toD(splinePts(arcLower), false) + toD(splinePts(arcBottom), false) +
  toD(splinePts(arcRight).slice().reverse(), false));
document.getElementById('ocean-shape').setAttribute('d',
  oceanCoast + toD(splinePts(arcBottom).slice().reverse(), false) + toD(splinePts(arcLower).slice().reverse(), false) + 'Z');

const seriesField = {DJF: fieldDJF, MAM: fieldMAM, JJA: fieldJJA, SON: fieldSON};
const seriesRim = {DJF: rimDJF, MAM: rimMAM, JJA: rimJJA, SON: rimSON};
const seriesNorth = {DJF: northDJF, MAM: northMAM, JJA: northJJA, SON: northSON};
const seriesCalObs = {DJF: calObsDJF, MAM: calObsMAM, JJA: calObsJJA, SON: calObsSON};
const seriesCalModel = {DJF: calModelDJF, MAM: calModelMAM, JJA: calModelJJA, SON: calModelSON};
const seriesNearObs = {DJF: nearObsDJF, MAM: nearObsMAM, JJA: nearObsJJA, SON: nearObsSON};
const seriesNearModel = {DJF: nearModelDJF, MAM: nearModelMAM, JJA: nearModelJJA, SON: nearModelSON};

const panelsRoot = document.getElementById('panels');
const gridLonValues = [-180,-150,-120];
const gridLatValues = [55,25];

function drawField(parent, season){
  const wrap = mk('g', {'clip-path': 'url(#ocean)'}, parent);
  
  
  const blur = mk('g', {filter: 'url(#soft)'}, wrap);
  const values = seriesField[season];
  const step = 5 * pxPerDeg;
  values.forEach((rowVals, r) => {
    rowVals.forEach((v, c) => {
      const x = xLon(fieldLons[c]) - step / 2;
      const y = yLat(fieldLats[r]) - step / 2;
      const w = step + 0.6 + (c === rowVals.length - 1 ? 30 : 0) + (c === 0 ? 30 : 0);
      const h = step + 0.6 + (r === values.length - 1 ? 30 : 0) + (r === 0 ? 30 : 0);
      const cell = mk('rect', {x: c === 0 ? x - 30 : x, y: r === 0 ? y - 30 : y, width: w, height: h, fill: cmap(v)}, blur);
      
      
    });
  });
  const rimGroup = mk('g', {filter: 'url(#softrim)'}, wrap);
  const rim = seriesRim[season];
  ['#rim-north', '#rim-south', '#rim-baja'].forEach((id, i) => {
    const u = mk('use', {href: id, stroke: cmap(rim[i]), style: 'stroke-width:' + (i === 2 ? 13 : 7) + 'px'}, rimGroup);
    
    
  });
  const landUse = mk('use', {href: '#land'}, parent);
  
  
}

function drawStations(parent, season, which){
  const g = mk('g', {}, parent);
  
  
  const radius = which === 2 ? 1.3 : 1.05;
  const addDot = (lon, lat, v) => {
    const d = mk('circle', {cx: xLon(lon).toFixed(1), cy: yLat(lat).toFixed(1), r: radius, fill: cmap(v)}, g);
    
    
  };
  seriesNorth[season].forEach(s => addDot(s[0], s[1], which === 2 ? s[2] : s[3]));
  const obs = seriesCalObs[season], mod = seriesCalModel[season];
  calLon.forEach((lon, i) => {
    const v = which === 2 ? obs[i] : mod[i];
    if (v > 0) addDot(lon, calLat[i], v);
  });
  const nObs = seriesNearObs[season], nMod = seriesNearModel[season];
  nearLon.forEach((lon, i) => {
    const v = which === 2 ? nObs[i] : nMod[i];
    if (v > 0) addDot(lon, nearLat[i], v);
  });
}

panelTops.forEach((top, rowIdx) => {
  panelLefts.forEach((left, colIdx) => {
    const season = seasons[colIdx];
    const rowNum = rowIdx + 1;
    const p = mk('g', {transform: 'translate(' + left + ',' + top + ')'}, panelsRoot);
    
    
    const inner = mk('g', {'clip-path': 'url(#panel-clip)'}, p);
    const bg = mk('rect', {x: 0, y: 0, width: 399.5, height: 240, fill: '#989898'}, inner);
    
    
    if (rowIdx === 0) drawField(inner, season);
    const coast = mk('use', {href: '#coast'}, inner);
    
    
    gridLonValues.forEach(lon => {
      const l = mk('line', {x1: xLon(lon), x2: xLon(lon), y1: 0, y2: 240, stroke: '#ababab', 'stroke-width': 1.4}, inner);
      
      
    });
    gridLatValues.forEach(lat => {
      const l = mk('line', {x1: 0, x2: 400, y1: yLat(lat), y2: yLat(lat), stroke: '#ababab', 'stroke-width': 1.4}, inner);
      
      
    });
    if (rowIdx > 0) drawStations(inner, season, rowNum);
    const bound = mk('use', {href: '#boundary'}, inner);
    
    
    const frame = mk('rect', {x: 0, y: 0, width: 399.5, height: 240, fill: 'none', stroke: '#222', 'stroke-width': 2}, p);
    
    
  });
});

/* ---------- colour bar ---------- */
const grad = document.getElementById('cbar-gradient');
cmapStops.forEach((c, i) => {
  mk('stop', {offset: (i / (cmapStops.length - 1)), 'stop-color': c}, grad);
});
const cbar = document.getElementById('colorbar');
const cbX = v => 202 + tNorm(v) * 1517;
minorTicks.forEach(v => {
  const t = mk('line', {x1: cbX(v), x2: cbX(v), y1: 933, y2: 938, stroke: '#000', 'stroke-width': 1}, cbar);
  
  
});
majorTicks.forEach(v => {
  const t = mk('line', {x1: cbX(v), x2: cbX(v), y1: 933, y2: 941, stroke: '#000', 'stroke-width': 1.3}, cbar);
  
  
  const lab = mk('text', {x: cbX(v), y: 962, class: 'tick mid'}, cbar);
  
  
  lab.textContent = String(v);
});
</script>
</body>
</html>
